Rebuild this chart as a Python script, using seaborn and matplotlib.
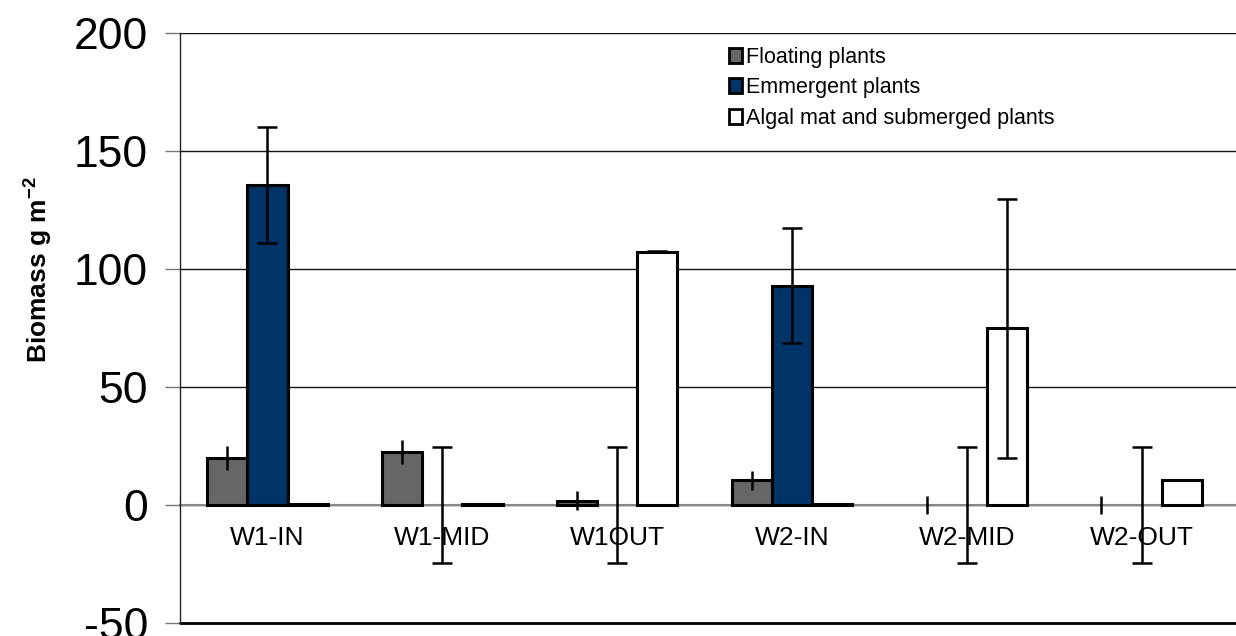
import matplotlib as mpl
mpl.use('Agg')
import matplotlib.pyplot as plt
import matplotlib.patches as mpatches
import seaborn as sns
import pandas as pd
import numpy as np

sns.set_style('white')
mpl.rcParams['font.family'] = ['Liberation Sans', 'DejaVu Sans']
mpl.rcParams['mathtext.fontset'] = 'custom'
mpl.rcParams['mathtext.bf'] = 'Liberation Sans:bold'
mpl.rcParams['axes.unicode_minus'] = False
mpl.rcParams['text.color'] = 'black'
mpl.rcParams['xtick.color'] = 'black'
mpl.rcParams['ytick.color'] = 'black'

# values
sites = ['W1-IN', 'W1-MID', 'W1OUT', 'W2-IN', 'W2-MID', 'W2-OUT']
floating = [20, 22.5, 1.8, 10.4, 0, 0]
floating_err = [5, 5, 4, 4, 4, 4]
emergent = [135.5, 0, 0, 93, 0, 0]
emergent_err = [24.5, 24.5, 24.5, 24.5, 24.5, 24.5]
algal = [0.5, 0.5, 107.4, 0.5, 74.8, 10.4]
algal_err = [0, 0, 0.3, 0, 55, 0]
groups = ['Floating plants', 'Emmergent plants', 'Algal mat and submerged plants']

df = pd.DataFrame({
    'site': sites * 3,
    'group': np.repeat(groups, len(sites)),
    'biomass': floating + emergent + algal,
    'err': floating_err + emergent_err + algal_err,
})

palette = {'Floating plants': '#666666',
           'Emmergent plants': '#003366',
           'Algal mat and submerged plants': '#ffffff'}

fig = plt.figure(figsize=(12.36, 6.36), dpi=100)
ax = fig.add_axes([180/1236, 13/636, 1 - 180/1236, 590/636])

sns.barplot(data=df, x='site', y='biomass', hue='group', order=sites,
            hue_order=groups, palette=palette, width=0.69, gap=0,
            errorbar=None, edgecolor='black', linewidth=2.2, saturation=1,
            legend=False, ax=ax, zorder=3)

# empty bars get no outline, only the error bar shows
for p in ax.patches:
    if p.get_height() == 0:
        p.set_linewidth(0)

# error bars on top of each bar
for g, cont in zip(groups, ax.containers):
    sub = df[df['group'] == g]
    xs = [p.get_x() + p.get_width() / 2 for p in cont]
    cap = 0 if g == 'Floating plants' else 7
    ax.errorbar(xs, sub['biomass'], yerr=sub['err'], fmt='none',
                ecolor='black', elinewidth=1.8, capsize=cap, capthick=1.8,
                zorder=4)

ax.set_ylim(-50, 200)
ax.set_xlim(-0.5, 5.54)
ax.set_yticks([-50, 0, 50, 100, 150, 200])
ax.yaxis.grid(True, color='#111111', linewidth=1)
ax.set_axisbelow(True)
ax.axhline(-50, color='black', linewidth=2, clip_on=False)

ax.spines['bottom'].set_position(('data', 0))
ax.spines['bottom'].set_color('#888888')
ax.spines['bottom'].set_linewidth(1.5)
ax.spines['bottom'].set_zorder(2)
ax.spines['left'].set_color('#222222')
ax.spines['left'].set_linewidth(1)
ax.spines['right'].set_visible(False)
ax.spines['top'].set_visible(False)

ax.set_xticks(np.arange(len(sites)))
ax.set_xticklabels(sites)
ax.set_xticks(np.arange(len(sites)) - 0.5, minor=True)
ax.tick_params(axis='x', which='major', length=0, pad=15, labelsize=19)
ax.tick_params(axis='x', which='minor', length=4, width=1, color='#888888',
               direction='out')
ax.tick_params(axis='y', length=11, width=1, color='#777777', direction='out',
               pad=12, labelsize=32, left=True)
ax.set_xlabel('')
ax.set_ylabel('')

fig.text(38/1236, 1 - 270/636, r'Biomass g m$^{\mathbf{-2}}$', rotation=90,
         ha='center', va='center', fontsize=19, fontweight='bold')

handles = [mpatches.Patch(facecolor=palette[g], edgecolor='black', linewidth=2)
           for g in groups]
fig.legend(handles, groups, loc='upper left',
           bbox_to_anchor=(718/1236, 1 - 36/636), frameon=False,
           fontsize=15.5, handlelength=0.6, handleheight=0.7,
           handletextpad=0.2, labelspacing=0.45, borderpad=0)

fig.savefig('out.png', dpi=100)
